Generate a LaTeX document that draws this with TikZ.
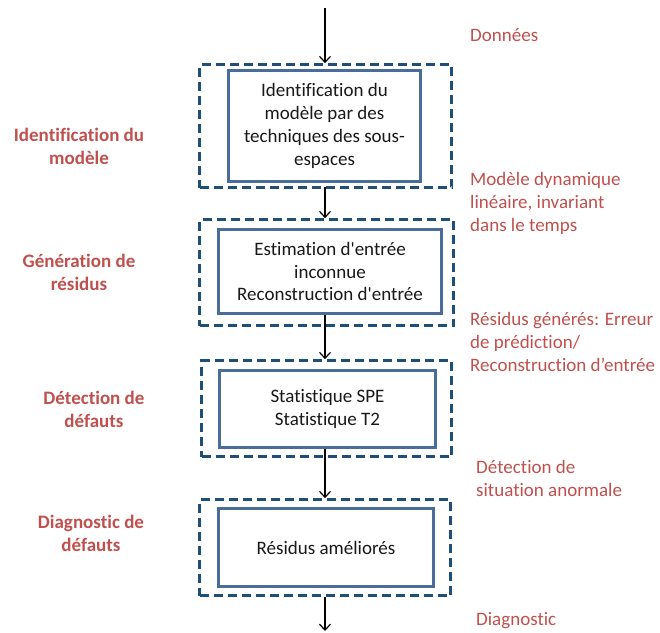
\documentclass[tikz,border=0pt]{standalone}
\usepackage{fontspec}
\setmainfont{Carlito}[Ligatures={NoCommon,TeXOff}]
\usetikzlibrary{arrows.meta}
\definecolor{lblred}{HTML}{C0504D}
\definecolor{boxblue}{HTML}{4A6C9B}
\definecolor{dashblue}{HTML}{1F4E79}
\tikzset{
  inbox/.style={draw=boxblue, line width=2.6pt, fill=white, rectangle, align=center, inner sep=0pt, font=\fontsize{19}{22.8}\selectfont, text=black!90},
  dbox/.style={draw=dashblue, line width=2.6pt, dash pattern=on 9pt off 5pt, rectangle, inner sep=0pt},
  leftlbl/.style={text=lblred, font=\bfseries\fontsize{19}{22.8}\selectfont, align=center, inner sep=0pt},
  rightlbl/.style={text=lblred, font=\fontsize{19}{22.8}\selectfont, align=left, anchor=west, inner sep=0pt},
  arr/.style={-{Straight Barb[length=6pt,width=11pt]}, line width=1.2pt, black}
}
\begin{document}
\begin{tikzpicture}[x=1pt,y=-1pt]
\useasboundingbox (0,0) rectangle (660,632);
% dashed frames
\node[dbox, minimum width=252pt, minimum height=123pt] (d1) at (325.5,126) {};
\node[dbox, minimum width=254pt, minimum height=106pt] (d2) at (326.5,272.5) {};
\node[dbox, minimum width=250pt, minimum height=96pt] (d3) at (326.5,408.5) {};
\node[dbox, minimum width=251pt, minimum height=96pt] (d4) at (325,547.5) {};
% inner boxes
\node[inbox, minimum width=192pt, minimum height=111pt] (b1) at (324.5,126) {Identification du\\modèle par des\\techniques des sous-\\espaces};
\node[inbox, minimum width=223pt, minimum height=84pt] (b2) at (330,271.5) {Estimation d'entrée\\inconnue\\Reconstruction d'entrée};
\node[inbox, minimum width=216pt, minimum height=77pt] (b3) at (327.5,409) {Statistique SPE\\Statistique T2};
\node[inbox, minimum width=215pt, minimum height=78pt] (b4) at (326,547.5) {Résidus améliorés};
% arrows
\coordinate (ax) at (325,0);
\coordinate (top) at (325,8);
\coordinate (bot) at (325,631);
\draw[arr] (top) -- (d1.north -| ax);
\draw[arr] ([yshift=-4pt]b1.south -| ax) -- (d2.north -| ax);
\draw[arr] (b2.south -| ax) -- (d3.north -| ax);
\draw[arr] (b3.south -| ax) -- (d4.north -| ax);
\draw[arr] ([yshift=-9pt]b4.south -| ax) -- (bot);
% left labels
\node[leftlbl] (l1) at (79,146.5) {Identification du\\modèle};
\node[leftlbl] (l2) at (79,272.5) {Génération de\\résidus};
\node[leftlbl] (l3) at (94,409.5) {Détection de\\défauts};
\node[leftlbl] (l4) at (91,533.5) {Diagnostic de\\défauts};
% right labels
\node[rightlbl] (r0) at (470,35) {Données};
\node[rightlbl] (r1) at (470,203.5) {Modèle dynamique\\linéaire, invariant\\dans le temps};
\node[rightlbl] (r2) at (470,342) {Résidus générés: Erreur\\de prédiction/\\Reconstruction d’entrée};
\node[rightlbl] (r3) at (476,478.5) {Détection de\\situation anormale};
\node[rightlbl] (r4) at (476,621) {Diagnostic};
\end{tikzpicture}
\end{document}
